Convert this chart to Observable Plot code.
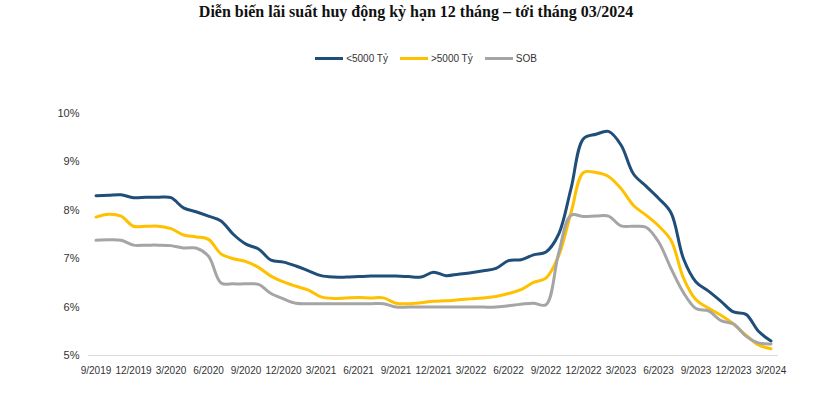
<!DOCTYPE html>
<html><head><meta charset="utf-8">
<script src="https://cdn.jsdelivr.net/npm/d3@7"></script>
<script src="https://cdn.jsdelivr.net/npm/@observablehq/plot@0.6"></script>
<style>
body{margin:0;background:#fff;width:813px;height:399px;overflow:hidden;font-family:"Liberation Sans",Arial,sans-serif;}
#title{position:absolute;top:3px;left:0;width:832px;text-align:center;font-family:"Liberation Serif","Times New Roman",serif;font-weight:bold;font-size:16px;color:#111;}
#legend{position:absolute;top:53px;left:0;width:852px;display:flex;justify-content:center;font-size:10px;color:#333;}
.item{display:flex;align-items:center;margin:0 6px;}
.sw{width:28px;height:3px;margin-right:3px;}
#chart{position:absolute;top:80px;left:0;}
</style></head>
<body>
<div id="title">Diễn biến lãi suất huy động kỳ hạn 12 tháng – tới tháng 03/2024</div>
<div id="legend"></div>
<div id="chart"></div>
<script>
const seriesNames = ["<5000 Tỷ", ">5000 Tỷ", "SOB"];
const seriesColors = ["#1f4e79", "#ffc000", "#a5a5a5"];
const tickLabels = ["9/2019","12/2019","3/2020","6/2020","9/2020","12/2020","3/2021","6/2021","9/2021","12/2021","3/2022","6/2022","9/2022","12/2022","3/2023","6/2023","9/2023","12/2023","3/2024"];
const yTicks = [5,6,7,8,9,10];
// monthly values, 9/2019 .. 3/2024
const small = [8.30,8.31,8.32,8.26,8.27,8.27,8.26,8.05,7.97,7.88,7.78,7.50,7.30,7.20,6.97,6.93,6.85,6.75,6.65,6.62,6.62,6.63,6.64,6.64,6.64,6.63,6.62,6.72,6.65,6.68,6.71,6.75,6.80,6.96,6.98,7.08,7.14,7.50,8.45,9.48,9.57,9.63,9.35,8.75,8.50,8.25,7.95,7.00,6.52,6.33,6.12,5.90,5.85,5.50,5.30];
const large = [7.86,7.92,7.88,7.67,7.67,7.67,7.62,7.49,7.45,7.40,7.10,7.00,6.94,6.82,6.64,6.52,6.43,6.35,6.21,6.18,6.19,6.20,6.19,6.19,6.08,6.07,6.09,6.12,6.13,6.15,6.17,6.19,6.22,6.28,6.36,6.51,6.60,7.05,7.95,8.78,8.78,8.70,8.45,8.10,7.90,7.68,7.38,6.60,6.15,5.98,5.83,5.65,5.42,5.22,5.14];
const sob = [7.38,7.39,7.38,7.28,7.28,7.28,7.27,7.22,7.22,7.05,6.50,6.48,6.48,6.47,6.28,6.17,6.08,6.07,6.07,6.07,6.07,6.07,6.07,6.07,6.00,6.00,6.00,6.00,6.00,6.00,6.00,6.00,6.00,6.03,6.06,6.08,6.05,7.10,7.90,7.87,7.88,7.88,7.68,7.67,7.65,7.35,6.80,6.30,5.97,5.92,5.72,5.65,5.40,5.26,5.24];

const allSeries = [small, large, sob];
const rows = [];
allSeries.forEach((arr, s) => arr.forEach((v, i) => rows.push({i, v, s: seriesNames[s]})));

const legend = document.getElementById("legend");
seriesNames.forEach((n, k) => {
  const d = document.createElement("div"); d.className = "item";
  d.innerHTML = `<span class="sw" style="background:${seriesColors[k]}"></span><span></span>`;
  d.lastChild.textContent = n;
  legend.appendChild(d);
});

const chart = Plot.plot({
  width: 813, height: 310,
  marginLeft: 88, marginRight: 35, marginTop: 33, marginBottom: 35,
  style: {fontFamily: '"Liberation Sans", Arial, sans-serif', color: "#333", background: "#fff"},
  x: {domain: [-0.6, 54.6], label: null},
  y: {domain: [5, 10], label: null},
  color: {domain: seriesNames, range: seriesColors},
  marks: [
    Plot.ruleY([5], {stroke: "#d9d9d9", strokeWidth: 1}),
    Plot.axisX({ticks: tickLabels.map((_, k) => k * 3), tickFormat: d => tickLabels[d / 3], tickSize: 0, tickPadding: 11, fontSize: 10, label: null}),
    Plot.axisY({ticks: yTicks, tickFormat: d => d + "%", tickSize: 0, tickPadding: 9, fontSize: 11, label: null}),
    Plot.line(rows, {x: "i", y: "v", z: "s", stroke: "s", strokeWidth: 3, curve: "catmull-rom"})
  ]
});
document.getElementById("chart").appendChild(chart);
</script>
</body></html>
